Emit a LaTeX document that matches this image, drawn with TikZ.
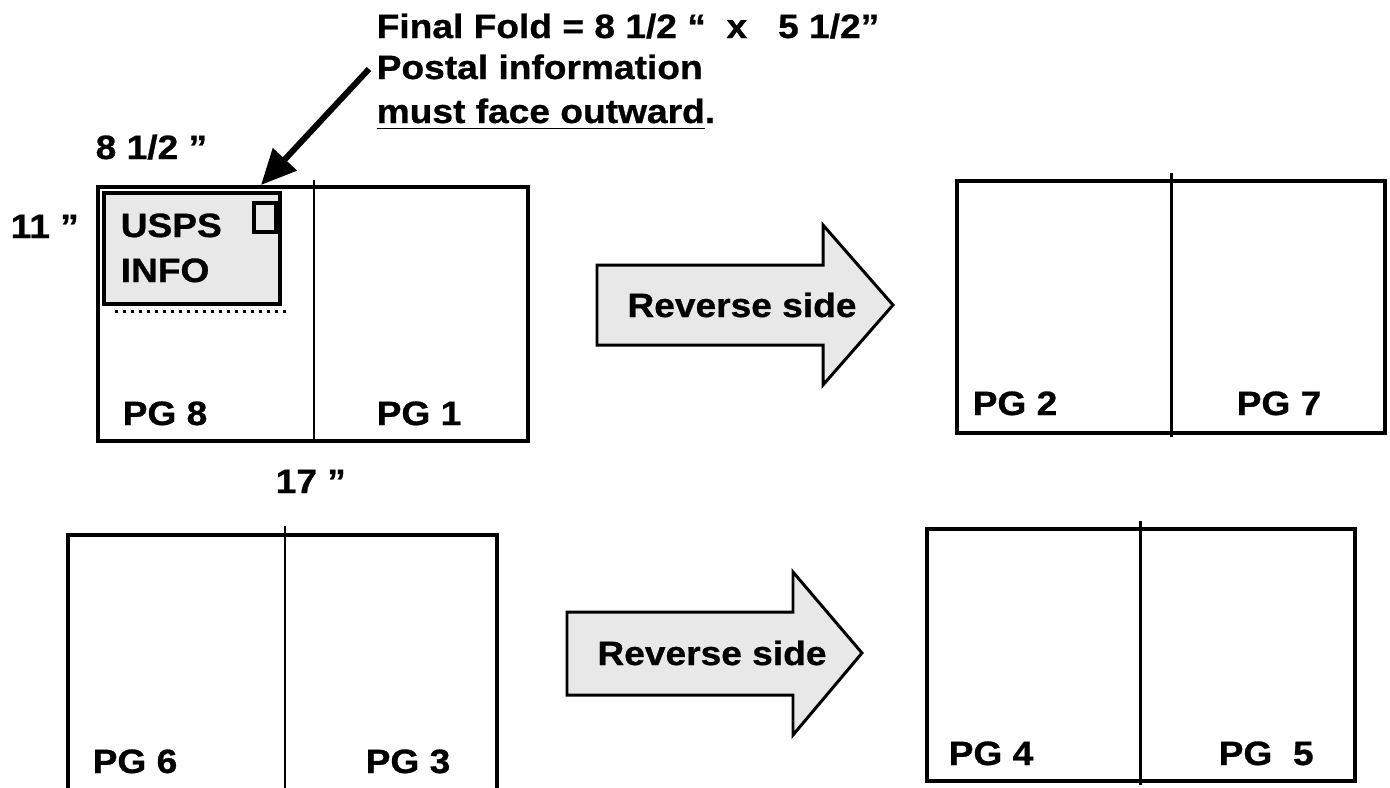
\documentclass[tikz,border=0pt]{standalone}
\usepackage{fontspec}
\setmainfont{Liberation Sans}[FakeStretch=1.1,BoldFeatures={FakeBold=0.8}]
\usetikzlibrary{arrows.meta}

\begin{document}
\begin{tikzpicture}[x=0.01cm,y=-0.01cm,
    sheet/.style={draw,line width=1.15pt},
    fold/.style={draw,line width=0.85pt},
    revarrow/.style={draw,line width=0.85pt,fill=black!9},
    lbl/.style={font=\fontsize{9.6}{12}\selectfont\bfseries,inner sep=0pt,anchor=base west}]
    \clip (0,0) rectangle (1390,787);
    %\draw (0,0) grid[step=100] (1390,787);
      % heading
      \node[lbl] (fold1) at (376,38) {Final Fold = 8 1/2 “~~x~~~5 1/2”};
      \node[lbl] (fold2) at (376,79) {Postal information};
      \node[lbl] (fold3) at (376,123) {\underline{must face outward}.};
      \coordinate (ptr) at (369,69);
      % sheet 1
      \draw[sheet] (98,187) rectangle (528,441);
      \draw[fold] (314,180) -- (314,441);
      \draw[sheet,fill=black!9,line width=0.9pt] (104,193) rectangle (280,304);
      \draw[line width=0.9pt] (254,203) rectangle (276,232);
      \draw[line width=0.85pt,dash pattern=on 0.85pt off 1.43pt] (115,311) -- (287,311);
      \coordinate (hit) at (261,185);
      \draw[line width=1.7pt,-{Triangle[length=10pt,width=9pt]}] (ptr) -- (hit);
      \node[lbl] (usps) at (120,237) {USPS};
      \node[lbl] (info) at (120,282) {INFO};
      \node[lbl] (pg8) at (122,425) {PG 8};
      \node[lbl] (pg1) at (376,425) {PG 1};
      \node[lbl] (wd) at (95,159) {8 1/2 ”};
      \node[lbl] (ht) at (10,238) {11 ”};
      \node[lbl] (ln) at (275,493) {17 ”};
      % reverse 1
      \draw[revarrow] (597,265) -- (823,265) -- (823,225) -- (893,305) -- (823,385) -- (823,345) -- (597,345) -- cycle;
      \node[lbl,anchor=base] (rev1) at (742,317) {Reverse side};
      % sheet 2
      \draw[sheet] (957,181) rectangle (1385,433);
      \draw[fold] (1171,173) -- (1171,437);
      \node[lbl] (pg2) at (972,415) {PG 2};
      \node[lbl] (pg7) at (1236,415) {PG 7};
      % sheet 3
      \draw[sheet] (68,535) rectangle (497,800);
      \draw[fold] (285,526) -- (285,800);
      \node[lbl] (pg6) at (92,773) {PG 6};
      \node[lbl] (pg3) at (365,773) {PG 3};
      % reverse 2
      \draw[revarrow] (567,612) -- (793,612) -- (793,572) -- (862,653) -- (793,735) -- (793,695) -- (567,695) -- cycle;
      \node[lbl,anchor=base] (rev2) at (712,665) {Reverse side};
      % sheet 4
      \draw[sheet] (927,529) rectangle (1355,781);
      \draw[fold] (1140,521) -- (1140,785);
      \node[lbl] (pg4) at (948,765) {PG 4};
      \node[lbl] (pg5) at (1218,765) {PG~~5};
\end{tikzpicture}
\end{document}
